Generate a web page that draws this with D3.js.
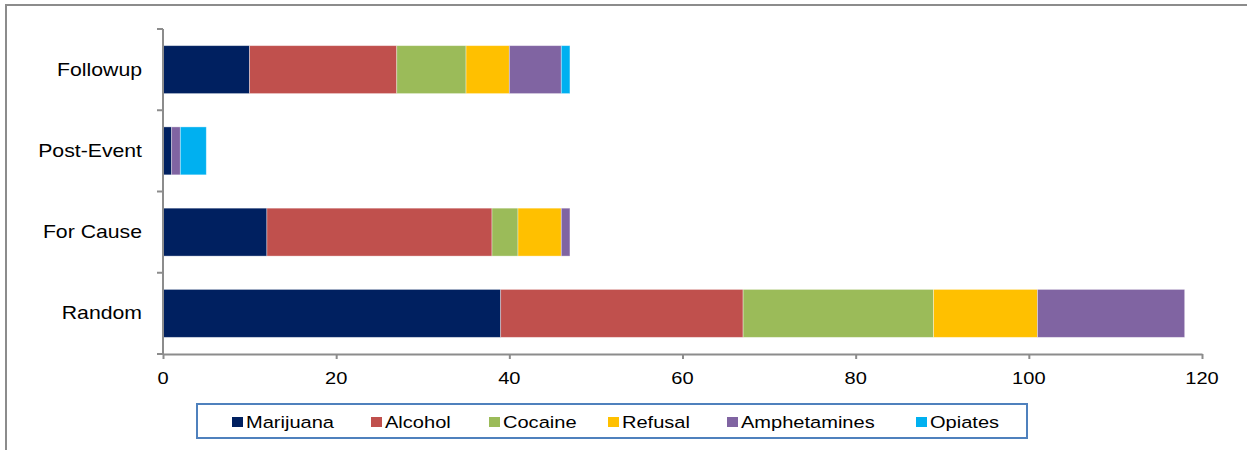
<!DOCTYPE html>
<html>
<head>
<meta charset="utf-8">
<script src="https://cdn.jsdelivr.net/npm/d3@7"></script>
<style>
  body { margin: 0; background: #fff; }
  svg { display: block; font-family: "Liberation Sans", Arial, sans-serif; }
</style>
</head>
<body>
<svg id="chart" width="1247" height="450"></svg>
<script>
// Drug test results by test type -- stacked horizontal bars

var categories = ["Random", "For Cause", "Post-Event", "Followup"];
var drugs = ["Marijuana", "Alcohol", "Cocaine", "Refusal", "Amphetamines", "Opiates"];
var colors = ["#002060", "#C0504D", "#9BBB59", "#FFC000", "#8064A2", "#00B0F0"];

// values per category (Random, For Cause, Post-Event, Followup)
var marijuana = [39, 12, 1, 10];
var alcohol = [28, 26, 0, 17];
var cocaine = [22, 3, 0, 8];
var refusal = [12, 5, 0, 5];
var amphetamines = [17, 1, 1, 6];
var opiates = [0, 0, 3, 1];

var xTicks = [0, 20, 40, 60, 80, 100, 120];

var seriesValues = [marijuana, alcohol, cocaine, refusal, amphetamines, opiates];

var rows = categories.map(function (c, i) {
  var row = { category: c };
  drugs.forEach(function (d, j) { row[d] = seriesValues[j][i]; });
  return row;
});

var svg = d3.select("#chart");
var axisColor = "#8c8c8c";
var stretch = 1.18; // text in the original is drawn a bit wide

// outer frame (cut off at right and bottom like the original)
svg.append("path")
  .attr("d", "M6,452 L6,5 L1250,5")
  .attr("fill", "none")
  .attr("stroke", axisColor)
  .attr("stroke-width", 2);

var plotLeft = 163, plotRight = 1202, plotTop = 29, plotBottom = 354;

var x = d3.scaleLinear().domain([0, 120]).range([plotLeft, plotRight]);
// top to bottom: Followup ... Random
var y = d3.scaleBand().domain(categories.slice().reverse())
  .range([plotTop, plotBottom]).paddingInner(0.41).paddingOuter(0.205);

var layers = d3.stack().keys(drugs)(rows);

svg.append("g").selectAll("g")
  .data(layers)
  .join("g")
  .attr("fill", function (d, i) { return colors[i]; })
  .selectAll("rect")
  .data(function (d) { return d; })
  .join("rect")
  .attr("x", function (d) { return x(d[0]); })
  .attr("y", function (d) { return y(d.data.category); })
  .attr("width", function (d) { return x(d[1]) - x(d[0]); })
  .attr("height", y.bandwidth())
  .attr("stroke", function (d) { return d[1] > d[0] ? "rgba(255,255,255,0.45)" : "none"; })
  .attr("stroke-width", 0.8);

// x axis
var xAxis = svg.append("g")
  .attr("transform", "translate(0," + plotBottom + ")")
  .call(d3.axisBottom(x).tickValues(xTicks).tickSize(5).tickSizeOuter(0).tickFormat(function () { return ""; }));
xAxis.select(".domain").attr("stroke", axisColor).attr("stroke-width", 2);
xAxis.selectAll(".tick line").attr("stroke", axisColor).attr("stroke-width", 2);

svg.append("g").selectAll("text")
  .data(xTicks)
  .join("text")
  .attr("transform", function (d) { return "translate(" + x(d) + ",384) scale(" + stretch + ",1)"; })
  .attr("text-anchor", "middle")
  .attr("font-size", 17)
  .attr("fill", "#000")
  .text(function (d) { return d; });

// y axis: ticks between categories
var yBounds = d3.range(categories.length + 1).map(function (i) {
  return plotTop + i * (plotBottom - plotTop) / categories.length;
});
svg.append("line")
  .attr("x1", plotLeft).attr("x2", plotLeft)
  .attr("y1", plotTop).attr("y2", plotBottom + 1)
  .attr("stroke", axisColor).attr("stroke-width", 2);
svg.append("g").selectAll("line")
  .data(yBounds)
  .join("line")
  .attr("x1", plotLeft - 6).attr("x2", plotLeft)
  .attr("y1", function (d) { return d; })
  .attr("y2", function (d) { return d; })
  .attr("stroke", axisColor).attr("stroke-width", 2);

svg.append("g").selectAll("text")
  .data(categories)
  .join("text")
  .attr("transform", function (d) {
    return "translate(142," + (y(d) + y.bandwidth() / 2 + 6) + ") scale(" + stretch + ",1)";
  })
  .attr("text-anchor", "end")
  .attr("font-size", 18)
  .attr("fill", "#000")
  .text(function (d) { return d; });

// legend
var legend = svg.append("g");
legend.append("rect")
  .attr("x", 197).attr("y", 404)
  .attr("width", 830).attr("height", 34)
  .attr("fill", "#fff")
  .attr("stroke", "#4F81BD")
  .attr("stroke-width", 2);

var legendX = [232, 371, 489, 608, 727, 916];
var item = legend.selectAll("g")
  .data(drugs)
  .join("g")
  .attr("transform", function (d, i) { return "translate(" + legendX[i] + ",422)"; });
item.append("rect")
  .attr("x", 0).attr("y", -5)
  .attr("width", 11).attr("height", 10)
  .attr("fill", function (d, i) { return colors[i]; });
item.append("text")
  .attr("transform", "translate(14,6) scale(" + stretch + ",1)")
  .attr("font-size", 17)
  .attr("fill", "#000")
  .text(function (d) { return d; });
</script>
</body>
</html>
